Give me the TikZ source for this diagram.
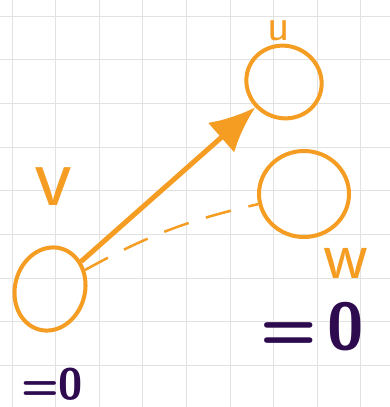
\documentclass[tikz,border=0pt]{standalone}
\usepackage{fontspec}
\usepackage{tikz}
\usetikzlibrary{arrows.meta,positioning,shapes.geometric}
\definecolor{pen}{HTML}{F49D22}
\definecolor{ink}{HTML}{2E0B4F}
\definecolor{gridgray}{HTML}{E2E2E2}
\tikzset{
  vert/.style={draw=pen, ellipse, line width=4pt, inner sep=0pt},
  lab/.style={text=pen, inner sep=0pt, anchor=base, text height=1ex, text depth=0pt,
              font=\sffamily\fontsize{46}{46}\selectfont},
  val/.style={text=ink, inner sep=0pt, anchor=base},
  edge/.style={draw=pen, line width=5pt, -{Latex[length=16mm,width=14mm]}},
  nonedge/.style={draw=pen, line width=2.5pt, dash pattern=on 26pt off 18pt},
  gridline/.style={draw=gridgray, line width=1pt}
}

\begin{document}
\begin{tikzpicture}[x=1pt, y=-1pt]
  \useasboundingbox (0,0) rectangle (390,407);
  \fill[white] (0,0) rectangle (390,407);
  % squared paper
  \foreach \g in {0,...,8} {
    \draw[gridline] ({12+43.6*\g},0) -- ++(0,407);
    \draw[gridline] (0,{16+43.7*\g}) -- ++(390,0);
  }
  % vertices
  \node[vert, minimum width=76pt, minimum height=72pt, rotate=-25] (u) at (284,82) {};
  \node[vert, minimum width=90pt, minimum height=86pt] (w) at (304,194) {};
  \node[vert, minimum width=70pt, minimum height=84pt, rotate=-15] (v) at (50,289) {};
  \node[lab] (ulab) at (279,40) {u};
  \node[lab, font=\sffamily\fontsize{70}{70}\selectfont] (wlab) at (346,278) {w};
  \node[lab, font=\sffamily\fontsize{88}{88}\selectfont] (vlab) at (54,205) {v};
  % values
  \node[val, font=\sffamily\bfseries\fontsize{44}{44}\selectfont] (vval) at (52,399) {=0};
  \node[val, font=\sffamily\bfseries\fontsize{66}{66}\selectfont] (wval) at (312,349) {=\,0};
  % edges
  \draw[edge] (v) -- (u);
  \draw[nonedge] (v) to[bend left=8] (w);
\end{tikzpicture}
\end{document}
